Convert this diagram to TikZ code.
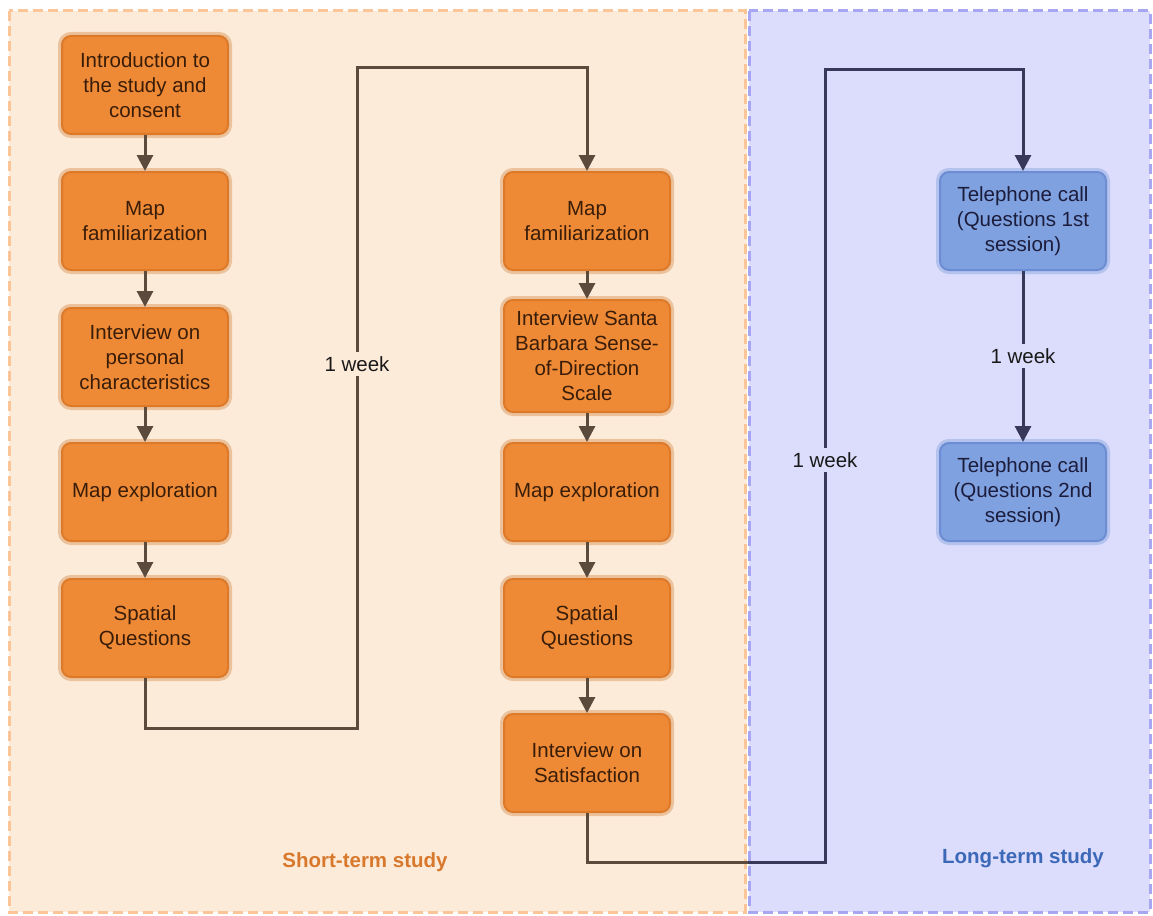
\documentclass[tikz,border=0pt]{standalone}
\usepackage{fontspec}
\setmainfont{Liberation Sans}
\usetikzlibrary{arrows.meta,positioning}
\definecolor{orbg}{HTML}{FDEBD9}
\definecolor{orbd}{HTML}{FCC597}
\definecolor{blbg}{HTML}{DCDCFC}
\definecolor{blbd}{HTML}{A6A6F2}
\definecolor{orfill}{HTML}{EE8A36}
\definecolor{ordraw}{HTML}{DD7A2A}
\definecolor{orhalo}{HTML}{EBC29C}
\definecolor{bfill}{HTML}{7FA1E0}
\definecolor{bdraw}{HTML}{6C8CD4}
\definecolor{bhalo}{HTML}{B4C2EE}
\definecolor{brownln}{HTML}{5A4B3C}
\definecolor{navyln}{HTML}{38385A}
\definecolor{ortxt}{HTML}{3A1D08}
\definecolor{bltxt}{HTML}{1C1C3C}
\definecolor{shortc}{HTML}{D8782C}
\definecolor{longc}{HTML}{3C68B8}
\tikzset{
  x=1pt,y=-1pt,
  basebox/.style={rounded corners=9pt, minimum width=166pt, align=center,
    font=\fontsize{20.5}{25}\selectfont, line width=2pt, inner sep=2pt},
  obox/.style={basebox, fill=orfill, draw=ordraw, text=ortxt,
    preaction={draw=orhalo, line width=8pt}},
  bbox/.style={basebox, fill=bfill, draw=bdraw, text=bltxt,
    preaction={draw=bhalo, line width=8pt}},
  bline/.style={draw=brownln, line width=3pt},
  nline/.style={draw=navyln, line width=3pt},
  barrow/.style={bline, -{Triangle[width=16pt,length=16pt]}},
  narrow/.style={nline, -{Triangle[width=16pt,length=16pt]}},
  wk/.style={font=\fontsize{20.5}{22}\selectfont, text=black!90, inner sep=4pt},
  region/.style={dash pattern=on 10pt off 5pt, line width=3pt}
}
\begin{document}
\begin{tikzpicture}
\useasboundingbox (0,0) rectangle (1153,915);
% regions
\path[fill=orbg] (9,11) rectangle (747,912);
\path[fill=blbg] (749,11) rectangle (1150,912);
\draw[region, draw=orbd] (9,11) rectangle (745,912);
\draw[region, draw=blbd] (749,11) rectangle (1150,912);
\node[font=\bfseries\fontsize{20.5}{22}\selectfont, text=shortc] (lshort) at (365,862) {Short-term study};
\node[font=\bfseries\fontsize{20.5}{22}\selectfont, text=longc] (llong) at (1023,858) {Long-term study};
% column 1
\node[obox, minimum height=98pt] (a1) at (145,85) {Introduction to\\the study and\\consent};
\node[obox, minimum height=98pt] (a2) at (145,221) {Map\\familiarization};
\node[obox, minimum height=98pt] (a3) at (145,357) {Interview on\\personal\\characteristics};
\node[obox, minimum height=98pt] (a4) at (145,492) {Map exploration};
\node[obox, minimum height=98pt] (a5) at (145,628) {Spatial\\Questions};
% column 2
\node[obox, minimum height=98pt] (b1) at (587,221) {Map\\familiarization};
\node[obox, minimum height=112pt] (b2) at (587,356) {Interview Santa\\Barbara Sense-\\of-Direction\\Scale};
\node[obox, minimum height=98pt] (b3) at (587,492) {Map exploration};
\node[obox, minimum height=98pt] (b4) at (587,628) {Spatial\\Questions};
\node[obox, minimum height=98pt] (b5) at (587,763) {Interview on\\Satisfaction};
% column 3
\node[bbox, minimum height=98pt] (c1) at (1023,221) {Telephone call\\(Questions 1st\\session)};
\node[bbox, minimum height=98pt] (c2) at (1023,492) {Telephone call\\(Questions 2nd\\session)};
% arrows column 1
\draw[barrow] (a1) -- (a2);
\draw[barrow] (a2) -- (a3);
\draw[barrow] (a3) -- (a4);
\draw[barrow] (a4) -- (a5);
% arrows column 2
\draw[barrow] (b1) -- (b2);
\draw[barrow] (b2) -- (b3);
\draw[barrow] (b3) -- (b4);
\draw[barrow] (b4) -- (b5);
% connector a5 -> b1
\coordinate (p1) at (145,728);
\coordinate (p2) at (357,728);
\coordinate (p3) at (357,68);
\coordinate (p4) at (587,68);
\draw[barrow] (a5.south) -- (p1) -- (p2) -- (p3) -- (p4) -- (b1.north);
\node[wk, fill=orbg] (w1) at (357,364) {1 week};
% connector b5 -> c1
\coordinate (q1) at (587,862);
\coordinate (q2) at (748,862);
\coordinate (q3) at (825,862);
\coordinate (q4) at (825,70);
\coordinate (q5) at (1023,70);
\draw[bline] (b5.south) -- (q1) -- (q2);
\draw[narrow] (q2) -- (q3) -- (q4) -- (q5) -- (c1.north);
\node[wk, fill=blbg] (w2) at (825,460) {1 week};
% c1 -> c2
\draw[narrow] (c1) -- (c2);
\node[wk, fill=blbg] (w3) at (1023,356) {1 week};
\end{tikzpicture}
\end{document}
